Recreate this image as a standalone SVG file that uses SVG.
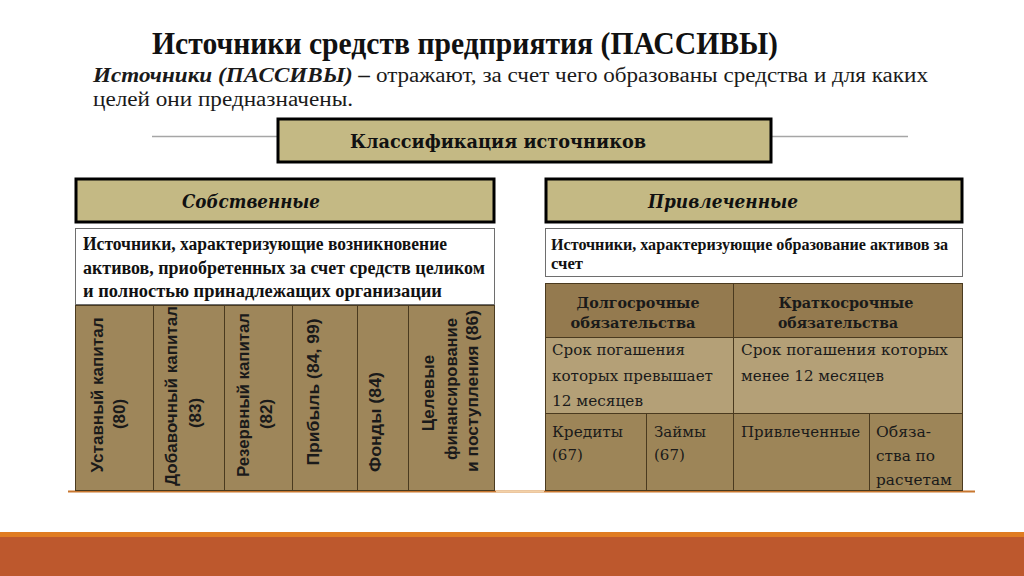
<svg xmlns="http://www.w3.org/2000/svg" width="1024" height="576" viewBox="0 0 1024 576">
<style>
.title{font-family:"Liberation Serif",serif;font-weight:bold;font-size:31px;fill:#111}
.sub{font-family:"Liberation Serif",serif;font-size:20.5px;fill:#1a1a1a}
.hdr{fill:#c4b984;stroke:#000;stroke-width:3}
.hdrtxt{font-family:"DejaVu Serif",serif;font-weight:bold;font-size:18px;fill:#111}
.cat{font-family:"DejaVu Serif",serif;font-weight:bold;font-style:italic;font-size:19px;fill:#111}
.desc{fill:#fff;stroke:#6e6e6e;stroke-width:1}
.desctxt{font-family:"Liberation Serif",serif;font-weight:bold;fill:#111}
.tab{fill:#9e865a;stroke:#4a3a1f;stroke-width:1}
.vt{font-family:"Liberation Sans",sans-serif;font-weight:bold;font-size:17px;fill:#1a1a1a}
.th{font-family:"DejaVu Serif",serif;font-weight:bold;font-size:15px;fill:#1a1a1a}
.td{font-family:"DejaVu Serif",serif;font-size:15px;fill:#1a1a1a}
.div{stroke:#4a3a1f;stroke-width:1}
</style>

<!-- bottom band -->
<rect x="0" y="532" width="1024" height="5" fill="#e07c22"/>
<rect x="0" y="537" width="1024" height="39" fill="#bd582d"/>

<!-- title -->
<g id="title">
<text class="title" x="152" y="54" textLength="626" lengthAdjust="spacingAndGlyphs">Источники средств предприятия (ПАССИВЫ)</text>
<text class="sub" x="93" y="82" textLength="835" lengthAdjust="spacingAndGlyphs"><tspan font-weight="bold" font-style="italic">Источники (ПАССИВЫ) –</tspan> отражают, за счет чего образованы средства и для каких</text>
<text class="sub" x="93" y="106" textLength="260" lengthAdjust="spacingAndGlyphs">целей они предназначены.</text>
</g>

<!-- connectors / separator -->
<g id="connectors">
<line x1="152" y1="136.5" x2="908" y2="136.5" stroke="#a6a6a6" stroke-width="1.5"/>
<line x1="68" y1="491.5" x2="975" y2="491.5" stroke="#c8772f" stroke-width="2"/>
<line x1="496" y1="491.5" x2="544" y2="491.5" stroke="#f3d1a8" stroke-width="2"/>
</g>

<g id="classification">
<rect class="hdr" x="278" y="119" width="493" height="43"/>
<text class="hdrtxt" x="350" y="148" textLength="296" lengthAdjust="spacingAndGlyphs">Классификация источников</text>
</g>

<!-- own sources -->
<g id="own">
<rect class="hdr" x="76" y="179" width="418" height="43"/>
<text class="cat" x="182" y="208" textLength="138" lengthAdjust="spacingAndGlyphs">Собственные</text>
</g>

<g id="own-table">
<rect class="tab" x="75.5" y="305.5" width="419" height="185"/>
<line class="div" x1="153.5" y1="305" x2="153.5" y2="491"/>
<line class="div" x1="224.5" y1="305" x2="224.5" y2="491"/>
<line class="div" x1="292.5" y1="305" x2="292.5" y2="491"/>
<line class="div" x1="357.5" y1="305" x2="357.5" y2="491"/>
<line class="div" x1="408.5" y1="305" x2="408.5" y2="491"/>
<text class="vt" text-anchor="middle" transform="translate(103,395) rotate(-90)" textLength="155" lengthAdjust="spacingAndGlyphs">Уставный капитал</text>
<text class="vt" text-anchor="middle" transform="translate(125,414) rotate(-90)">(80)</text>
<text class="vt" text-anchor="middle" transform="translate(177,396) rotate(-90)" textLength="180" lengthAdjust="spacingAndGlyphs">Добавочный капитал</text>
<text class="vt" text-anchor="middle" transform="translate(201,413) rotate(-90)">(83)</text>
<text class="vt" text-anchor="middle" transform="translate(249,395) rotate(-90)" textLength="164" lengthAdjust="spacingAndGlyphs">Резервный капитал</text>
<text class="vt" text-anchor="middle" transform="translate(272,414) rotate(-90)">(82)</text>
<text class="vt" text-anchor="middle" transform="translate(319,392) rotate(-90)" textLength="147" lengthAdjust="spacingAndGlyphs">Прибыль (84, 99)</text>
<text class="vt" text-anchor="middle" transform="translate(381,422) rotate(-90)" textLength="100" lengthAdjust="spacingAndGlyphs">Фонды (84)</text>
<text class="vt" text-anchor="middle" transform="translate(434,393) rotate(-90)">Целевые</text>
<text class="vt" text-anchor="middle" transform="translate(457,389) rotate(-90)" textLength="142" lengthAdjust="spacingAndGlyphs">финансирование</text>
<text class="vt" text-anchor="middle" transform="translate(478,391) rotate(-90)" textLength="162" lengthAdjust="spacingAndGlyphs">и поступления (86)</text>
</g>

<g id="own-desc">
<rect class="desc" x="75.5" y="228.5" width="419" height="76"/>
<text class="desctxt" font-size="18.5" x="83" y="250" textLength="364" lengthAdjust="spacingAndGlyphs">Источники, характеризующие возникновение</text>
<text class="desctxt" font-size="18.5" x="83" y="274" textLength="402" lengthAdjust="spacingAndGlyphs">активов, приобретенных за счет средств целиком</text>
<text class="desctxt" font-size="18.5" x="83" y="297" textLength="359" lengthAdjust="spacingAndGlyphs">и полностью принадлежащих организации</text>
</g>

<!-- borrowed sources -->
<g id="borrowed">
<rect class="hdr" x="546" y="179" width="416" height="43"/>
<text class="cat" x="648" y="208" textLength="150" lengthAdjust="spacingAndGlyphs">Привлеченные</text>
</g>

<g id="borrowed-desc">
<rect class="desc" x="545.5" y="228.5" width="417" height="48"/>
<text class="desctxt" font-size="16.5" x="551" y="250" textLength="397" lengthAdjust="spacingAndGlyphs">Источники, характеризующие образование активов за</text>
<text class="desctxt" font-size="16.5" x="551" y="269" textLength="32" lengthAdjust="spacingAndGlyphs">счет</text>
</g>

<g id="borrowed-table">
<rect x="545.5" y="283.5" width="417" height="54" fill="#947a4f"/>
<rect x="545.5" y="337.5" width="417" height="76" fill="#b4a077"/>
<rect x="545.5" y="413.5" width="417" height="77" fill="#9d8558"/>
<rect x="545.5" y="283.5" width="417" height="207" fill="none" stroke="#4a3a1f" stroke-width="1"/>
<line class="div" x1="545" y1="337.5" x2="963" y2="337.5"/>
<line class="div" x1="545" y1="413.5" x2="963" y2="413.5"/>
<line class="div" x1="733.5" y1="283" x2="733.5" y2="491"/>
<line class="div" x1="646.5" y1="413" x2="646.5" y2="491"/>
<line class="div" x1="869.5" y1="413" x2="869.5" y2="491"/>
</g>

<g id="long-term">
<text class="th" text-anchor="middle" x="638" y="308" textLength="123" lengthAdjust="spacingAndGlyphs">Долгосрочные</text>
<text class="th" text-anchor="middle" x="633" y="328" textLength="125" lengthAdjust="spacingAndGlyphs">обязательства</text>
<text class="td" x="552" y="355" textLength="133" lengthAdjust="spacingAndGlyphs">Срок погашения</text>
<text class="td" x="552" y="381" textLength="161" lengthAdjust="spacingAndGlyphs">которых превышает</text>
<text class="td" x="552" y="406" textLength="91" lengthAdjust="spacingAndGlyphs">12 месяцев</text>
<text class="td" x="552" y="437" textLength="71" lengthAdjust="spacingAndGlyphs">Кредиты</text>
<text class="td" x="552" y="460">(67)</text>
<text class="td" x="654" y="437" textLength="52" lengthAdjust="spacingAndGlyphs">Займы</text>
<text class="td" x="654" y="460">(67)</text>
</g>

<g id="short-term">
<text class="th" text-anchor="middle" x="846" y="308" textLength="135" lengthAdjust="spacingAndGlyphs">Краткосрочные</text>
<text class="th" text-anchor="middle" x="838" y="328" textLength="120" lengthAdjust="spacingAndGlyphs">обязательства</text>
<text class="td" x="741" y="355" textLength="207" lengthAdjust="spacingAndGlyphs">Срок погашения которых</text>
<text class="td" x="741" y="381" textLength="143" lengthAdjust="spacingAndGlyphs">менее 12 месяцев</text>
<text class="td" x="741" y="437" textLength="119" lengthAdjust="spacingAndGlyphs">Привлеченные</text>
<text class="td" x="876" y="437" textLength="55" lengthAdjust="spacingAndGlyphs">Обяза-</text>
<text class="td" x="876" y="461" textLength="59" lengthAdjust="spacingAndGlyphs">ства по</text>
<text class="td" x="876" y="485" textLength="76" lengthAdjust="spacingAndGlyphs">расчетам</text>
</g>
</svg>
